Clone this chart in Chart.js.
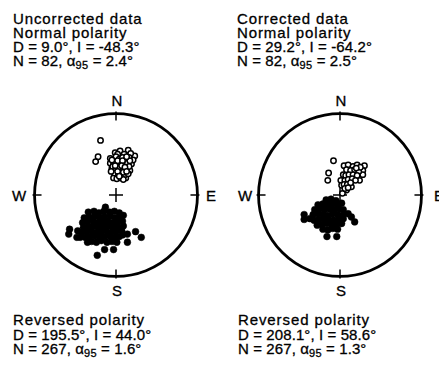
<!DOCTYPE html>
<html>
<head>
<meta charset="utf-8">
<script src="https://cdn.jsdelivr.net/npm/chart.js@4"></script>
<style>
  html, body { margin: 0; padding: 0; background: #fff; }
  body { width: 439px; height: 365px; position: relative; overflow: hidden;
         font-family: "Liberation Sans", Arial, Helvetica, sans-serif; color: #000; }
  .txt { position: absolute; font-size: 15px; white-space: nowrap; -webkit-text-stroke: 0.3px #000; }
  .txt span { display: block; }
  .w { letter-spacing: 0.9px; }
  .n { letter-spacing: 0.1px; }
  .top { line-height: 14px; }
  .bot { line-height: 14.5px; }
  .dir { position: absolute; font-size: 15px; line-height: 15px; transform: translateX(-50%); -webkit-text-stroke: 0.3px #000; }
  sub { font-size: 11px; vertical-align: -3px; line-height: 0; letter-spacing: 0.3px; }
  canvas { position: absolute; }
</style>
</head>
<body>
<div class="txt top" style="left:13px; top:12px"><span class="w">Uncorrected data</span><span class="w">Normal polarity</span><span class="n">D = 9.0°, I = -48.3°</span><span class="n">N = 82, α<sub>95</sub> = 2.4°</span></div>
<div class="txt top" style="left:237px; top:12px"><span class="w">Corrected data</span><span class="w">Normal polarity</span><span class="n">D = 29.2°, I = -64.2°</span><span class="n">N = 82, α<sub>95</sub> = 2.5°</span></div>
<div class="txt bot" style="left:13px; top:313px"><span class="w">Reversed polarity</span><span class="n">D = 195.5°, I = 44.0°</span><span class="n">N = 267, α<sub>95</sub> = 1.6°</span></div>
<div class="txt bot" style="left:238px; top:313px"><span class="w">Reversed polarity</span><span class="n">D = 208.1°, I = 58.6°</span><span class="n">N = 267, α<sub>95</sub> = 1.3°</span></div>

<div class="dir" style="left:117px; top:93px">N</div>
<div class="dir" style="left:117px; top:283px">S</div>
<div class="dir" style="left:19px; top:188px">W</div>
<div class="dir" style="left:211px; top:188px">E</div>
<div class="dir" style="left:341px; top:93px">N</div>
<div class="dir" style="left:341px; top:283px">S</div>
<div class="dir" style="left:245px; top:188px">W</div>
<div class="dir" style="left:439px; top:188px">E</div>

<canvas id="uncorrectedChart" width="200" height="200" style="left:16px; top:95px"></canvas>
<canvas id="correctedChart" width="200" height="200" style="left:240px; top:95px"></canvas>

<script>
// equal-area projected directions, [east, north] in units of the net radius
const uncorrectedNormal = [
  [-0.19, 0.67], [-0.22, 0.47], [-0.25, 0.41],
  [0.15, 0.55], [0.23, 0.48], [-0.01, 0.52], [0.05, 0.54], [0.10, 0.50], [-0.07, 0.45],
  [-0.07, 0.39], [-0.05, 0.33], [-0.03, 0.21], [0.03, 0.30], [0.12, 0.21], [0.17, 0.30],
  [0.19, 0.38], [0.21, 0.43], [0.18, 0.51], [0.02, 0.50],
  [0.00, 0.47], [0.04, 0.44], [0.08, 0.46], [0.12, 0.43], [0.16, 0.46],
  [-0.03, 0.40], [0.02, 0.38], [0.06, 0.40], [0.10, 0.37], [0.14, 0.39], [0.17, 0.42],
  [-0.04, 0.35], [0.00, 0.32], [0.05, 0.34], [0.09, 0.31], [0.13, 0.33], [0.16, 0.35],
  [-0.02, 0.27], [0.03, 0.25], [0.07, 0.27], [0.11, 0.25], [0.15, 0.26],
  [0.01, 0.20], [0.06, 0.21], [0.09, 0.19],
  [-0.05, 0.43], [0.02, 0.42], [0.08, 0.42], [0.13, 0.47], [-0.01, 0.36], [0.07, 0.36],
  [0.11, 0.34], [0.02, 0.29], [0.09, 0.28], [0.13, 0.29], [0.04, 0.23], [-0.06, 0.29]
];

const uncorrectedReversed = [
  [-0.57, -0.42], [-0.58, -0.48], [-0.48, -0.52], [0.24, -0.45], [0.31, -0.52], [0.14, -0.48],
  [-0.14, -0.67], [-0.03, -0.67], [-0.23, -0.74], [-0.13, -0.15], [0.14, -0.58], [-0.47, -0.44],
  [-0.44, -0.52], [-0.35, -0.58],
  [-0.34, -0.21], [-0.27, -0.20], [-0.21, -0.22], [-0.15, -0.20], [-0.08, -0.21], [-0.02, -0.20], [0.04, -0.22],
  [-0.39, -0.28], [-0.33, -0.27], [-0.26, -0.26], [-0.20, -0.28], [-0.14, -0.27], [-0.07, -0.26], [-0.01, -0.28], [0.05, -0.27], [0.09, -0.25],
  [-0.41, -0.34], [-0.35, -0.33], [-0.28, -0.32], [-0.22, -0.34], [-0.16, -0.33], [-0.10, -0.32], [-0.04, -0.34], [0.02, -0.33], [0.08, -0.32],
  [-0.40, -0.40], [-0.34, -0.39], [-0.28, -0.38], [-0.22, -0.40], [-0.16, -0.39], [-0.10, -0.38], [-0.04, -0.40], [0.02, -0.39], [0.09, -0.38],
  [-0.42, -0.46], [-0.36, -0.45], [-0.30, -0.44], [-0.24, -0.46], [-0.18, -0.45], [-0.12, -0.44], [-0.06, -0.46], [0.00, -0.45], [0.07, -0.44],
  [-0.38, -0.52], [-0.32, -0.51], [-0.26, -0.50], [-0.20, -0.52], [-0.14, -0.51], [-0.08, -0.50], [-0.02, -0.52], [0.04, -0.51], [0.08, -0.49],
  [-0.30, -0.57], [-0.24, -0.58], [-0.18, -0.56], [-0.11, -0.58], [-0.05, -0.57], [0.01, -0.58]
];

const correctedNormal = [
  [-0.08, 0.42], [-0.14, 0.27], [-0.15, 0.18],
  [0.05, 0.36], [0.10, 0.37], [0.16, 0.35], [0.21, 0.37], [0.26, 0.33], [0.30, 0.36],
  [0.28, 0.30], [0.28, 0.25], [0.24, 0.18], [0.14, 0.10], [0.08, 0.06], [0.03, 0.02],
  [0.04, 0.25], [0.01, 0.18], [0.02, 0.12],
  [0.08, 0.31], [0.13, 0.30], [0.18, 0.31], [0.23, 0.29], [0.07, 0.24], [0.11, 0.25],
  [0.16, 0.25], [0.21, 0.24], [0.06, 0.18], [0.10, 0.19], [0.15, 0.20], [0.19, 0.18],
  [0.05, 0.13], [0.09, 0.13], [0.13, 0.15], [0.06, 0.08], [0.10, 0.09], [0.25, 0.34], [0.20, 0.33]
];

const correctedReversed = [
  [-0.44, -0.24], [-0.44, -0.30], [-0.37, -0.29], [0.14, -0.27], [0.18, -0.33],
  [-0.16, -0.51], [-0.04, -0.51], [0.10, -0.23],
  [-0.17, -0.06], [-0.11, -0.05], [-0.05, -0.07],
  [-0.27, -0.12], [-0.21, -0.11], [-0.15, -0.12], [-0.09, -0.11], [-0.03, -0.12], [0.02, -0.10],
  [-0.31, -0.18], [-0.25, -0.17], [-0.19, -0.18], [-0.13, -0.17], [-0.07, -0.18], [-0.01, -0.17], [0.04, -0.18],
  [-0.33, -0.24], [-0.27, -0.23], [-0.21, -0.24], [-0.15, -0.25], [-0.09, -0.23], [-0.03, -0.24], [0.03, -0.25],
  [-0.32, -0.31], [-0.26, -0.30], [-0.20, -0.29], [-0.14, -0.30], [-0.08, -0.31], [-0.02, -0.30], [0.04, -0.29],
  [-0.28, -0.37], [-0.22, -0.36], [-0.16, -0.35], [-0.10, -0.37], [-0.04, -0.36], [0.02, -0.35],
  [-0.21, -0.42], [-0.15, -0.43], [-0.09, -0.41], [-0.03, -0.42]
];

const netRange = 1.16;

// primitive circle, cardinal ticks and centre cross
const stereonetFrame = {
  id: 'stereonetFrame',
  beforeDatasetsDraw(chart) {
    const { ctx, scales: { x, y } } = chart;
    const cx = x.getPixelForValue(0);
    const cy = y.getPixelForValue(0);
    const r = x.getPixelForValue(1) - cx;
    ctx.save();
    ctx.strokeStyle = '#000';
    ctx.lineWidth = 2.8;
    ctx.beginPath();
    ctx.arc(cx, cy, r, 0, Math.PI * 2);
    ctx.stroke();

    ctx.lineWidth = 1.5;
    ctx.beginPath();
    ctx.moveTo(cx, cy - r - 2); ctx.lineTo(cx, cy - r + 7);
    ctx.moveTo(cx, cy + r + 2); ctx.lineTo(cx, cy + r - 7);
    ctx.moveTo(cx - r - 2, cy); ctx.lineTo(cx - r + 7, cy);
    ctx.moveTo(cx + r + 2, cy); ctx.lineTo(cx + r - 7, cy);
    ctx.moveTo(cx - 7, cy); ctx.lineTo(cx + 7, cy);
    ctx.moveTo(cx, cy - 7); ctx.lineTo(cx, cy + 7);
    ctx.stroke();
    ctx.restore();
  }
};

function toPoints(list) {
  return list.map(p => ({ x: p[0], y: p[1] }));
}

function makeNet(id, normal, reversed) {
  const ctx = document.getElementById(id).getContext('2d');
  return new Chart(ctx, {
    type: 'scatter',
    data: {
      datasets: [{
        label: 'Reversed polarity',
        data: toPoints(reversed),
        pointRadius: 3.4,
        pointBackgroundColor: '#000',
        pointBorderColor: '#000',
        pointBorderWidth: 0.5
      }, {
        label: 'Normal polarity',
        data: toPoints(normal),
        pointRadius: 2.7,
        pointBackgroundColor: '#fff',
        pointBorderColor: '#000',
        pointBorderWidth: 1.5
      }]
    },
    options: {
      responsive: false,
      animation: false,
      layout: { padding: 0 },
      plugins: { legend: { display: false }, tooltip: { enabled: false } },
      scales: {
        x: { type: 'linear', min: -netRange, max: netRange, display: false },
        y: { type: 'linear', min: -netRange, max: netRange, display: false }
      }
    },
    plugins: [stereonetFrame]
  });
}

makeNet('uncorrectedChart', uncorrectedNormal, uncorrectedReversed);
makeNet('correctedChart', correctedNormal, correctedReversed);
</script>
</body>
</html>
